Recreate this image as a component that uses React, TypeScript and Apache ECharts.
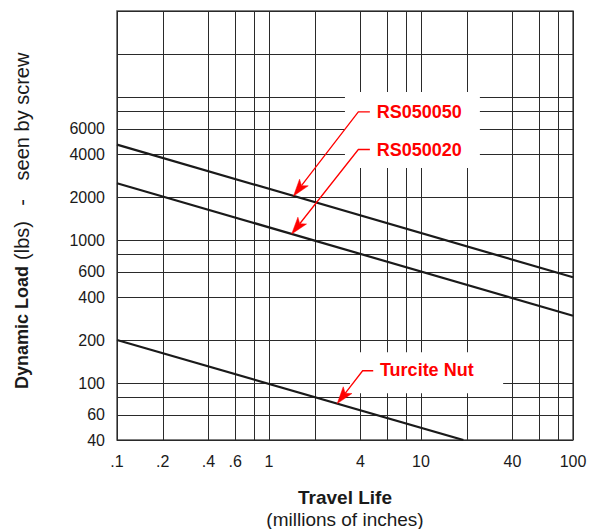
import React, { useEffect, useRef } from "react";
import * as echarts from "echarts";

// ---- data ----
const lifeRS050050 = [0.1, 100];
const loadRS050050 = [4650, 550];
const lifeRS050020 = [0.1, 100];
const loadRS050020 = [2500, 296];
const lifeTurcite = [0.1, 19];
const loadTurcite = [200, 40];

const xGridValues = [0.1, 0.2, 0.4, 0.6, 0.8, 1, 2, 4, 6, 8, 10, 20, 40, 60, 80, 100];
const xLabelValues = [0.1, 0.2, 0.4, 0.6, 1, 4, 10, 40, 100];
const yGridValues = [40, 60, 80, 100, 200, 400, 600, 800, 1000, 2000, 4000, 6000, 8000, 10000, 20000, 40000];
const yLabelValues = [40, 60, 100, 200, 400, 600, 1000, 2000, 4000, 6000];

const seriesNames = ["RS050050", "RS050020", "Turcite Nut"];

// annotation anchors, in data coordinates
const annotations = [
  { label: "RS050050", life: lifeRS050050, load: loadRS050050, elbow: [3.87, 7870], leaderEnd: [4.61, 7870], text: [5.11, 7870], tipX: 1.45 },
  { label: "RS050020", life: lifeRS050020, load: loadRS050020, elbow: [3.87, 4300], leaderEnd: [4.61, 4300], text: [5.11, 4300], tipX: 1.41 },
  { label: "Turcite Nut", life: lifeTurcite, load: loadTurcite, elbow: [4.13, 122], leaderEnd: [4.85, 122], text: [5.37, 124], tipX: 2.81 },
];
// white label backgrounds, in data coordinates [x0, y0, x1, y1]
const labelBoxes = [
  [3.16, 10870, 24.4, 3190],
  [3.41, 164, 34.7, 84.9],
];

const FONT = '"Liberation Sans", Arial, Helvetica, sans-serif';
const RED = "#ff0000";
const INK = "#1a1a1a";

function zip(a: number[], b: number[]) {
  return a.map((v, i) => [v, b[i]]);
}
function loadAt(life: number[], load: number[], x: number) {
  const l0 = Math.log10(life[0]);
  const l1 = Math.log10(life[1]);
  const t = (Math.log10(x) - l0) / (l1 - l0);
  const y0 = Math.log10(load[0]);
  const y1 = Math.log10(load[1]);
  return Math.pow(10, y0 + t * (y1 - y0));
}
function fmtX(v: number) {
  const n = Number(Number(v).toPrecision(6));
  return n < 1 ? String(n).replace(/^0/, "") : String(n);
}

export default function App() {
  const ref = useRef<HTMLDivElement>(null);
  useEffect(() => {
    const chart = echarts.init(ref.current!, null, { renderer: "svg" });
    const lineStyle = { color: INK, width: 2.2 };
    const option: any = {
      animation: false,
      backgroundColor: "#ffffff",
      grid: {
        left: 117,
        right: 24,
        top: 11,
        bottom: 89,
        show: true,
        borderColor: "#555555",
        borderWidth: 1.5,
        backgroundColor: "transparent",
      },
      xAxis: {
        type: "log",
        logBase: 10,
        min: 0.1,
        max: 100,
        axisLine: { show: false },
        axisTick: { show: false, customValues: xGridValues },
        axisLabel: {
          customValues: xLabelValues,
          formatter: (v: number) => fmtX(v),
          fontSize: 16,
          fontFamily: FONT,
          color: INK,
          margin: 13,
          showMinLabel: true,
          showMaxLabel: true,
        },
        splitLine: { show: true, lineStyle: { color: "#2a2a2a", width: 1 } },
        minorSplitLine: { show: false },
      },
      yAxis: {
        type: "log",
        logBase: 10,
        min: 40,
        max: 40000,
        axisLine: { show: false },
        axisTick: { show: false, customValues: yGridValues },
        axisLabel: {
          customValues: yLabelValues,
          formatter: (v: number) => String(Math.round(v)),
          fontSize: 16,
          fontFamily: FONT,
          color: INK,
          margin: 12,
          showMinLabel: true,
          showMaxLabel: true,
        },
        splitLine: { show: true, lineStyle: { color: "#2a2a2a", width: 1 } },
        minorSplitLine: { show: false },
      },
      series: [
        { type: "line", name: seriesNames[0], data: zip(lifeRS050050, loadRS050050), symbol: "none", lineStyle, silent: true, z: 3 },
        { type: "line", name: seriesNames[1], data: zip(lifeRS050020, loadRS050020), symbol: "none", lineStyle, silent: true, z: 3 },
        { type: "line", name: seriesNames[2], data: zip(lifeTurcite, loadTurcite), symbol: "none", lineStyle, silent: true, z: 3 },
      ],
    };
    chart.setOption(option);

    const px = (p: number[]) => chart.convertToPixel({ gridIndex: 0 }, p) as unknown as number[];
    const elements: any[] = [];

    labelBoxes.forEach((b) => {
      const p0 = px([b[0], b[1]]);
      const p1 = px([b[2], b[3]]);
      elements.push({
        type: "rect",
        z: 2,
        silent: true,
        shape: {
          x: Math.min(p0[0], p1[0]),
          y: Math.min(p0[1], p1[1]),
          width: Math.abs(p1[0] - p0[0]),
          height: Math.abs(p1[1] - p0[1]),
        },
        style: { fill: "#ffffff" },
      });
    });

    annotations.forEach((a) => {
      const tip = px([a.tipX, loadAt(a.life, a.load, a.tipX)]);
      const elbow = px(a.elbow);
      const lend = px(a.leaderEnd);
      const tp = px(a.text);
      const dx = tip[0] - elbow[0];
      const dy = tip[1] - elbow[1];
      const len = Math.sqrt(dx * dx + dy * dy);
      const ux = dx / len;
      const uy = dy / len;
      const nx = -uy;
      const ny = ux;
      const L = 17;
      const W = 5.5;
      const back = [tip[0] - (L - 4) * ux, tip[1] - (L - 4) * uy];
      elements.push({
        type: "polyline",
        z: 10,
        silent: true,
        shape: { points: [lend, elbow, back] },
        style: { stroke: RED, lineWidth: 1.3, fill: null },
      });
      elements.push({
        type: "polygon",
        z: 10,
        silent: true,
        shape: {
          points: [
            tip,
            [tip[0] - L * ux + W * nx, tip[1] - L * uy + W * ny],
            back,
            [tip[0] - L * ux - W * nx, tip[1] - L * uy - W * ny],
          ],
        },
        style: { fill: RED, stroke: RED, lineWidth: 0.5 },
      });
      elements.push({
        type: "text",
        z: 10,
        silent: true,
        x: tp[0],
        y: tp[1],
        style: {
          text: a.label,
          fill: RED,
          font: `bold 18px ${FONT}`,
          align: "left",
          verticalAlign: "middle",
        },
      });
    });

    // axis titles
    const rotText = (text: string, y: number, bold: boolean, size: number) => ({
      type: "text",
      z: 10,
      silent: true,
      x: 22,
      y,
      rotation: Math.PI / 2,
      style: {
        text,
        fill: INK,
        font: `${bold ? "bold " : ""}${size}px ${FONT}`,
        align: "center",
        verticalAlign: "middle",
      },
    });
    elements.push(rotText("Dynamic Load", 327.5, true, 18));
    elements.push(rotText("(lbs)", 240.5, false, 20));
    elements.push(rotText("-", 202.5, false, 20));
    elements.push(rotText("seen by screw", 116.5, false, 20));
    elements.push({
      type: "text",
      z: 10,
      silent: true,
      x: 345,
      y: 497,
      style: { text: "Travel Life", fill: INK, font: `bold 19px ${FONT}`, align: "center", verticalAlign: "middle" },
    });
    elements.push({
      type: "text",
      z: 10,
      silent: true,
      x: 345,
      y: 519.5,
      style: { text: "(millions of inches)", fill: INK, font: `19px ${FONT}`, align: "center", verticalAlign: "middle" },
    });

    chart.setOption({ graphic: { elements } });
    return () => chart.dispose();
  }, []);
  return (
    <div
      ref={ref}
      style={{ position: "fixed", left: 0, top: 0, width: 597, height: 529, background: "#ffffff" }}
    />
  );
}
